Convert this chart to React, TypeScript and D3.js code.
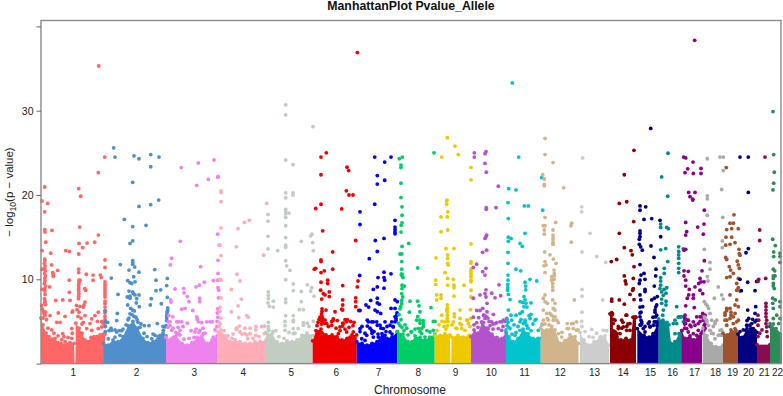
import React, { useEffect, useRef } from 'react';
import * as d3 from 'd3';

type Pair = [number, number];

const chromNames = ['1','2','3','4','5','6','7','8','9','10','11','12','13','14','15','16','17','18','19','20','21','22'];
const chromTicks = [31.7,95,152.7,201.7,249.7,294.7,337,376.7,414,449.7,483,518.7,553,581.7,609,631,653,674,691,707,722.7,736];
const chromColors = ['#FF6666','#4F8FCB','#EE82EE','#FFAEB9','#C1CDC1','#EE0000','#0000FF','#00CD66','#EEC900','#B452CD','#00C5CD','#D2B48C','#CDCDCD','#8B0000','#00008B','#008B8B','#8B008B','#A9A9A9','#A0522D','#000080','#8B0A50','#2E8B57'];
const yTicks = [0, 10, 20, 30, 40];
const yTickLabels = ['', '10', '20', '30', ''];

// band = top of the solid mass of points, [genome position, -log10 p]
const chr1Band: Pair[] = [[0,5.4],[2,4.6],[5,3.6],[8,3.2],[11,2.9],[14,3],[17,2.5],[20,2.4],[23,2.2],[26,2.3],[29,2.5],[33,2.4],[33.6,0],[34.4,0],[34.8,4.8],[38,4.2],[41,3.6],[44,2.8],[47,2.6],[50,3.1],[53,3.2],[56,3.2],[59,3.4],[62,3.5],[64,3.5]];
const chr2Band: Pair[] = [[62.5,2.4],[67,2.2],[72,2.8],[77,2.6],[82,3.2],[87,4.5],[92,5],[97,4.2],[102,3],[107,2.5],[112,2.6],[117,3.2],[122,3.6],[125,3.3]];
const chr3Band: Pair[] = [[125,3.1],[130,2.9],[135,3.3],[141,2.4],[146,2.2],[151,2.5],[156,3.1],[161,3.3],[166,2.4],[171,2.8],[176,3.3]];
const chr4Band: Pair[] = [[176,3.8],[180,4],[184,3.3],[189,2.6],[194,2.8],[199,2.6],[204,2.4],[209,2.4],[214,2.6],[219,2.6],[225,2.8]];
const chr5Band: Pair[] = [[225,3.7],[231,3.5],[236,2.6],[241,2.4],[246,2.7],[251,2.6],[256,2.8],[261,3.35],[266,3.6],[271.7,3.35]];
const chr6Band: Pair[] = [[271.7,2.7],[275,3.9],[280,4.1],[285,3.4],[291,3.4],[296,3.2],[301,2.8],[306,3],[311,3.4],[315.7,3.4]];
const chr7Band: Pair[] = [[315.7,2.6],[321,2.4],[326,2.2],[331,2.4],[336,2.6],[341,3.55],[346,3],[351,3.15],[356.3,3.75]];
const chr8Band: Pair[] = [[356.3,3.8],[362,3.5],[367,2.6],[371,2.6],[374,3.3],[379,3.1],[384,2.8],[389,3.15],[393.7,3.5]];
const chr9Band: Pair[] = [[393.7,3.35],[399,3.35],[404,3.55],[408.9,3.4],[409.3,0],[410.2,0],[410.6,3.15],[417,3.35],[422,3.15],[428,3.35],[430,3.35]];
const chr10Band: Pair[] = [[430,3.2],[433,4],[437,3.6],[441,4.9],[446,4.2],[451,3.5],[456,3.1],[461,3],[465,3.7]];
const chr11Band: Pair[] = [[465,4],[468,3.2],[472,2.6],[477,3],[482,4.1],[487,3.55],[492,3],[497,3],[499.7,3]];
const chr12Band: Pair[] = [[499.7,4.2],[505.7,4],[510.7,4.4],[514,4],[519,2.4],[524,2.75],[529,3.4],[534,3.2],[537.5,2.4]];
const chr13Band: Pair[] = [[539,3.7],[543,2.8],[548,2.2],[553,2.6],[559,3.1],[564,3.3],[568,2.2]];
const chr14Band: Pair[] = [[569,5.9],[571.5,5.9],[572,3.9],[576,3.2],[580,2.8],[585,3],[590,2.8],[592,5.5],[595,5.5]];
const chr15Band: Pair[] = [[596.3,4.15],[603,3.35],[608,3.15],[612,3.55],[616,4.5],[617.7,5]];
const chr16Band: Pair[] = [[617.7,5.3],[622,5.15],[626,4.9],[628,4.6],[630,2.4],[634,2.6],[638,3.55],[641,3.9]];
const chr17Band: Pair[] = [[640.7,3.9],[644,3],[649,3.3],[653,2.8],[657,3.2],[661,3.7]];
const chr18Band: Pair[] = [[661.7,4.2],[666,3.3],[670,2.4],[675,2],[682,2.2]];
const chr19Band: Pair[] = [[682,3.6],[686,3.4],[690,4],[695,3.9],[697,3.5]];
const chr20Band: Pair[] = [[697,3.5],[701,3.1],[705,3.9],[710,4.2],[714,3.9],[716,3.7]];
const chr21Band: Pair[] = [[716,2.25],[729,2.25]];
const chr22Band: Pair[] = [[729,4.75],[735,4.15],[741,3.5]];

const chr1Points: Pair[] = [[57.7,35.3],[63.7,24.5],[57.3,22.65],[3.7,20.95],[37.7,20.75],[39.7,19.85],[1,19.3],[6.7,19],[3.7,18],[38.7,16.2],[3.7,15.9],[4,15.6],[11,15.8],[57.3,15.25],[4.7,14.4],[38,14.25],[46,14.3],[53.7,14.4],[41.7,13.75],[24.7,13.4],[28.3,13.3],[1,13.4],[9.7,13.1],[37.7,13],[64,12.3],[64,11.4],
  [3.7,12.4],[3.9,12.2],[3.5,11.9],[4.1,11.6],[3.7,11.3],[4.3,11],[3.6,10.7],[4.4,10.4],[3.8,10.1],[4,9.8],[3.4,9.5],[4.6,9.2],[3.7,8.9],[3.9,8.6],[4.1,8.2],[3.5,7.7],[4,7.4],[3.6,7.2],[4.6,7],[1,11.2],[1,8.8],
  [10.7,11.7],[11.7,10.8],[12.3,10.6],[12.3,10.35],[16.7,11.05],[8.7,9.1],[28.3,9.9],[37.7,11.2],[37.7,10.8],[38,9.9],[38,9.6],[39,9.9],[45.3,10.6],[52,10.5],[59.3,10.5],[60.3,10.2],[52,9.9],[43.7,8.9],[44.7,8.7],[28.3,8.45],[14.7,7.5],[21.7,7.55],[29,7.5],
  [37.7,9.3],[37.7,9],[37.5,8.8],[37.7,8.6],[37.9,8.3],[37.7,8],[37.5,7.7],[44,7.3],[43,6.95],[42.3,6.7],[64,9.7],[64,9.4],[64,9.1],[64,8.8],[64,8.5],[64,8.2],[64,7.9],[64,7.4],[64,7.1],[64,6.7],[64,6.3],[64,6],[64,5.6],[64,5.2],[64,4.8],[64,4.4]];
const chr1Low: Pair[] = [[0.6,6.9],[1.2,6.5],[2.5,6.2],[3,5.9],[4.5,6.1],[2,5.4],[4,5.7],[5.5,5.2],[9,5.7],[17.3,6],[24,5.6],[31.7,6.25],[31.2,6.1],[10.7,4],[15.7,4.9],[19,4.9],[21.7,3.55],[23,3.2],[20.7,2.85],[24,2.6],[30.7,4.15],[31.3,3.6],[30.7,3],[35.5,6.9],[36,6.4],[38,6.1],[37,5.6],[40,5.4],[39,6.8],[41,4.7],[44,5.7],[50.7,5.3],[54,5.7],[57.3,6.1],[42.3,4.9],[49,4.75],[56.3,5],[60.7,5],[62.3,4.75],[45.7,4.15],[50.7,3.95],[57.3,4.15],[60.7,4.35],[7,4.2],[13,3.6],[17,3.3],[27,3.1]];
const chr2Points: Pair[] = [[72.7,25.6],[74,24.5],[93,24.65],[98,24.3],[109.7,24.8],[118,24.5],[109.7,23.35],[91.7,21.5],[117.7,19.4],[98,18.65],[109.7,18.85],[83.3,17.1],[91.7,16.25],[105,16.4],[91.7,14.55],[89,14.25],
  [91.7,12.2],[91.7,12],[91.7,11.8],[79.3,11.75],[93.7,11.45],[88,11.1],[113.7,11.15],[98,10.85],[92.7,10.3],[70.3,10.15],[126.3,10.1],[115,9.9],[86.7,9.85],[89,9.6],[90.7,9.5],[94,9.7],[125.7,9.25],[88,8.6],[115,8.65],[119.7,8.75],[77,8.2],
  [91.7,8.5],[92.3,8.3],[94,8.15],[98,8.15],[95.7,7.7],[89,8],[86.3,7.9],[89,7.75],[110.3,7.7],[126.3,7.85],[95.3,7.2],[86.7,6.95],[109.3,6.95],[120.3,7.1],[98.3,6.75],[89.7,6.55],[91.7,6.35],[93.3,6.25],[126.7,6.6],[126.7,6.4],[126.3,6.2],[126,6],[64.3,6.2],[76.3,5.95],[75.7,5.1],[66.7,4.9]];
const chr2Low: Pair[] = [[103.3,4.5],[108,4.5],[64.3,5],[64.3,4.4],[64.3,3.8],[125.7,5.1],[125,4.5],[122,4.4],[88,5.4],[96,5.2],[97,4.9],[100,4.7],[85,4.6],[82,4.1],[74,4],[70,4.2],[68,3.9],[78,3.9],[70.7,3.95],[75.7,3.75],[80.7,3.9],[79,3.35],[74,3.15],[67.3,2.95],[116.3,4.75],[124,4.35],[122.3,3.95],[119,3.35],[114,3.35],[110.7,2.95],[125.7,5.7],[125.7,5.4],[89,5.9],[91,5.8],[93,5.6],[95,5.5],[87,5.2],[99,4.3],[103,3.6],[106,3.2],[112,3.5]];
const chr3Points: Pair[] = [[140.3,23.25],[157.3,23.8],[173,24.15],[167.3,21.85],[176.8,22.1],[177,22.2],[155.7,21.15],[139.3,14.5],[130.7,12.5],[129.3,11.7],[159.7,11.5],[134,8.85],[142.7,8.9],[143,8.4],[155,9.1],[158.3,9.3],[163.3,9.65],[172.3,9.85],[146.3,7.95],[148,7.35],[158.7,7.75],[158.7,7.35],[129.7,7.55],[130,7.3],[140.7,6.45],[144,6.55],[151.7,6.3],[131.7,5.55],[155.7,5.55],[156.3,5.25],
  [176.7,15.35],[178.3,14.05],[177,12.25],[177,10.7],[176.7,9.9],[177,9],[177.7,8.7],[177.5,7.8],[176.5,6.5],[176.3,6],[176.8,5.5],[176.2,5],[175.8,4.4]];
const chr3Low: Pair[] = [[127.3,4.95],[135.7,4.95],[138,4.95],[140.7,4.95],[165.7,4.95],[169,4.95],[171.3,4.95],[146.3,4.8],[157.3,4.95],[160.7,4.85],[128,5.7],[129,4.5],[132,4.2],[137,4.3],[142,4.4],[135,3.7],[139,3.4],[150,3.9],[155,4.1],[158,3.7],[162,4.2],[164,3.6],[130.7,3.95],[132.3,3.15],[139,3.95],[137.3,3.55],[129,4.95],[154,3.75],[159,3.95],[162.3,3.55],[172.3,3.15],[127,4.3],[153,3.1],[148,3],[143,2.9],[174,4]];
const chr4Points: Pair[] = [[180,20.3],[180,20.5],[180,19.2],[180,16.1],[208.3,17],[203.3,16.75],[197,16],[195.3,13.85],[196,10.6],[199,9.8],[190.3,8.8],[200.3,7.65],[197,6.85],[190.3,6.15],[197.7,5.45],[205.7,5.7],[207.3,5.5],[179,14.05],[180,12.8],[179,10],[180,7.8],[179,6.7],[179,6.2],[180,9.9],[180,5.4],[225.7,19],[222.7,12.85],[223.7,4.45]];
const chr4Low: Pair[] = [[195.3,4.2],[198.3,4.45],[204,4.2],[209,4.2],[215,4.4],[214.7,4],[220.7,4.4],[183,3.9],[187,3.3],[192,3.5],[201,3.5],[206,3.4],[204,3.55],[209,3.55],[214.7,3.35],[206.7,2.95],[185.7,3.15],[223.3,3.55],[178,4.9],[178,4.4],[179,4.7],[195.7,4.05],[199,3.75],[191,3],[218,3.2],[212,3]];
const chr5Points: Pair[] = [[244.7,30.7],[244.7,29.5],[272,28.1],[244.7,24.15],[252,23.6],[244.7,20.25],[252,20.25],[252,20],[244.7,19.65],[227,17.7],[227,16.9],[227,15.1],[227,13.6],[244.7,18.3],[244.7,18],[248,17.85],[244.7,17.75],[244.7,17.35],[244.7,16.35],[244.7,14.95],[244.7,14.05],[244.7,13.8],[236.7,13.4],[260.3,14.5],[269.7,15.15],[271,15.35],[271.7,14.35],[272.3,13.4],[244.7,12.2],[245.7,11.6],[249,11.05],[244.7,9.95],[252.3,9.45],[252.3,8.65],[260.3,8.55],[266.3,9.35],[270.7,9],[269.7,8.6],[273,8],
  [227.3,8.5],[227.3,8.1],[227.3,7.7],[227,7.2],[232.3,7.4],[232.3,6.7],[228.3,6.8],[244.7,7.65],[244.7,7.25],[260.3,7.35],[258.3,6.4],[262.3,6.4]];
const chr5Low: Pair[] = [[244.7,5.7],[252.3,5.7],[252.3,5.15],[227.3,4.9],[227.3,4.4],[227.3,4.1],[244,5],[244,4.5],[257.3,4.15],[262.3,4.85],[266.3,4.8],[272.3,5],[235,3.9],[248,3.7],[254,3.6],[268,4.4],[244,3.95],[252.3,4.95],[252.3,4.15],[252.3,3.55],[262.3,4.55],[228,3.9],[232,3.8],[238,3.2],[243,3]];
const chr6Points: Pair[] = [[316.3,36.9],[285.3,25],[280,24.5],[280,22.4],[306,23.3],[307.7,22.9],[305.3,20.5],[308,20],[312,20],[280,18.9],[274.7,18.4],[300.7,18.35],[281.7,15.75],[314.7,14.6],[291.7,13.25],[280,12.3],[280,12.1],[274.7,11.3],[273.3,11.2],[291.7,11.2],[283.3,11],[280,10.8],[280,9.65],[286.7,9.9],[286.7,9.5],[301.7,9.25],[317,9.8],[316.3,9.1],
  [279.7,8.7],[288.3,8.5],[288.3,7.95],[282.3,8.3],[280.7,7.65],[284,8.15],[314.7,7.8],[314.7,7.35],[301.7,7.55],[301.7,6.95],[301.7,6.35],[294,6.15],[300.7,6.45],[314.7,6.75],[317.7,6.3]];
const chr6Low: Pair[] = [[281,6.5],[281,6.2],[280.5,5.9],[281,5.6],[280.5,5.3],[281,5],[280.5,4.7],[285,6.35],[292.3,5.3],[296.3,5.1],[306.3,5.2],[309.7,5],[301.7,4.8],[301.7,4.45],[287.3,4.4],[290.7,5],[295,4.2],[299,3.9],[304,4.1],[308,4.3],[312,4.5],[278,5.2],[276,4.5],[285.7,4.75],[290.7,4.55],[292.3,5.15],[297.3,3.55],[302.3,4.75],[305.7,4.95],[299,4.35],[312.3,3.75],[309,3.15],[305.7,3.75],[294,3.15],[279,5.5],[282,5.3],[283,4.8],[284,5.15],[277,4.9],[304,5.2],[313,4.9]];
const chr7Points: Pair[] = [[333.7,24.5],[350,24.5],[343.7,23.9],[336.3,22.3],[343.7,21.75],[336.3,21.3],[333.7,18.9],[319,18],[319,16.5],[354,17],[354,16.2],[354,15.9],[354,15.6],[354,15.4],[343,14.85],[334.3,14.6],[336.3,13.3],[328.3,12.45],[318.7,10.45],[343,10.85],[350,10.65],[337,10.2],[343,10.2],[343.7,9.9],[336.3,9.1],[332.3,8.8],[343,8.95],
  [329.7,7.5],[336.3,7.75],[325,6.95],[327.7,6.7],[336.3,7.2],[338.3,7.05],[354,7.55],[356.3,7.35],[334,6.35],[336.3,6.15],[339.7,5.95],[350,6.55],[354,6.55],[319,6.3]];
const chr7Low: Pair[] = [[326.3,5.15],[330.7,4.95],[335.7,4.95],[336.3,4.55],[326.3,4.45],[329,4.2],[344,4.95],[350.7,4.95],[355.7,5.75],[355,5.35],[354,4.95],[319,3.8],[324,3.6],[333,3.8],[340,4.2],[346,4.4],[352,4.4],[321,4.4],[331,3.6],[337,3.5],[319,4.15],[320.7,2.95],[325.7,3.35],[330.7,3.95],[332.3,3.15],[339,4.55],[342.3,4.15],[344,3.35],[349,3.75],[349,4.55],[352.3,4.35],[354,5.55],[327.3,4.95],[332.3,4.95],[324,2.75],[337.3,3.15],[356,6],[355,5.1],[351,3.5],[345,3.8]];
const chr8Points: Pair[] = [[358.3,24.3],[361.3,24.5],[360,23.55],[360,23.25],[360,21.4],[360,19.7],[393,25],[361,18.6],[361,17.6],[361,16.7],[360.3,16.4],[360,15.6],[367.7,14.25],[361,13.9],[359,13],[360.7,13],[360.7,12.1],[360.7,11.2],[361,10.6],[360.3,10.6],[361,10.4],[362,10.2],[361,9.3],[363.3,9.2],[361,8.9],[360.7,8.3],[361.7,7.9],[360.7,7.5],[360.7,7.1],[359.7,6.75],[359,6.5],[376.7,11.35],
  [369,7.4],[376.7,7.4],[378,6.85],[379,6.15],[368.3,6.1],[390,6.65]];
const chr8Low: Pair[] = [[376.7,5.57],[379,4.8],[382.3,5.1],[364,4.6],[365.7,4.2],[392.3,5],[394,5],[382.3,4.4],[379,3.8],[370.7,3.8],[358,5.8],[360,5.2],[386,3.9],[374,4.1],[377.3,4.15],[380.7,4.15],[380.7,3.55],[384,3.15],[370,3.75],[382.3,4.75],[375.7,5.15],[379,5.15],[389,3.75],[392.3,3.95],[357.5,4.8],[359,4.5],[361,4.3],[363,3.9],[367,3.4]];
const chr9Points: Pair[] = [[406.3,26.8],[414,25.8],[417.3,24.8],[400.7,24.5],[430,23.25],[430,21.8],[406,19.4],[405.7,19.3],[405.7,18.9],[406.7,18],[406.3,17.4],[400,17.4],[400,15.65],[406.7,15.85],[405,13.65],[413,13.65],[406.7,12.9],[406.7,12.5],[406.7,11.9],[407.3,11.7],[395,12.55],[394.7,9.9],[394.7,9.4],[404,10.8],[406.7,10.1],[412.3,10],[413,9.3],[413,9],[423,9.3],[395.7,8.15],[400,8.15],[400,7.75],[395.7,7.55],[406.7,9.3],[413,8],[419,6.35],
  [406.3,6.95],[406.3,6.55],[406.3,6.15],[406.3,5.75],[406.3,5.35],[430,14.2],[430,12.1],[430,11.9],[430,11.2],[430,10.9],[430,10.6],[430,10.3],[430,9.9],[430,9.7],[430,8.7],[430,7.9]];
const chr9Low: Pair[] = [[413.3,5.9],[413.3,5.55],[419,5.35],[420.3,4.6],[426.3,5.15],[427.3,4.75],[429.7,5.35],[401,5],[398,4.6],[403,4.4],[411,4.6],[415,4.2],[400.7,5.75],[404,4.95],[405.7,6.3],[412.3,4.95],[419,4.75],[420.7,4.15],[425.7,5.15],[424,3.95],[415.7,4.15],[407,5],[406.5,4.5],[405,4.1],[396,3.9],[429,4.4],[429.5,6.4]];
const chr10Points: Pair[] = [[433.3,25],[433.3,24.5],[445,25.15],[444,24.9],[444,23.75],[445.3,22.7],[457.3,21.05],[445.3,18.5],[445.3,18.3],[455,18.5],[445.7,15.25],[445,15.05],[444,14.85],[445.7,13.45],[441.7,13.2],[435.7,11.8],[432.3,11.4],[445,11.3],[441.7,10.9],[444,10.5],[458,9.35],[445,8.75],[444,8.3],[450.7,8.35],[439,8.15],[432.3,7.75],[459.7,8.05],[454,7.8],[445,7.9],[446,7.15],[446,6.15],[442.7,5.75],[437.7,5.45],[441.7,6.55],[452.3,5.85]];
const chr10Low: Pair[] = [[435.7,4.85],[442.7,4.85],[455.7,4.85],[460.7,4.95],[452,4.7],[448,5],[464,5],[432.3,5.5],[435.7,6.3],[439,6.3],[443,5.75],[444,5.35],[440.7,4.95],[450.7,4.95],[454,4.75],[459,4.95],[462.3,5.15],[465.7,5.35],[447.3,4.15],[457.3,4.15],[460.7,3.95],[433,4.6],[437,4.3],[445,5.6],[447,5.4],[449,4.5],[452,4.1],[462,4.4]];
const chr11Points: Pair[] = [[471.3,33.3],[477.7,24.5],[467.7,20.75],[475,20.6],[500.7,22.05],[467,19.1],[467.3,17.2],[484,15.45],[467.3,15],[470,14.85],[467.3,14.5],[479,14.25],[481.3,13.9],[467,13.2],[483.3,18.7],[487.3,18.7],[467,11.9],[475,11.2],[479.7,11],[467,10.5],[467,9.9],[466.7,9.4],[466.7,9],[466.7,8.7],[467.3,8.2],[469,7.6],[489,10],[484,9.65],[495.7,9.8],[484.7,9.2],[484.7,8.75],[483,7.95],[484,7.55],[479,7.35],[481.7,7.25],[485,7.15],[490,7.2],[483,6.75],[481.3,6.15],[479,5.95],[467.3,6.35],[470,5.75],[475,5.75],[490,5.85],[495,5.25],[486,6.7],[488,5.7],[501.7,18.2],[501,4.6]];
const chr11Low: Pair[] = [[480,5.2],[484,4.9],[473,4.6],[477,4.4],[492,4.7],[469,4.15],[470.7,5.15],[474,3.35],[479,3.95],[482.3,4.75],[484,5.15],[485.7,4.55],[489,5.35],[494,5.15],[497.3,3.95],[479,4.95],[466,5.2],[467,4.9],[466,4.5],[468,4.3],[487,4.2],[490,3.9],[471,3.5],[475,3.7]];
const chr12Points: Pair[] = [[504,26.7],[504,24.8],[512,23.85],[501.7,22.4],[503.3,21.9],[503.3,21.25],[503.3,21.1],[522.7,20.85],[504,17.35],[514.7,16.75],[530.7,16.65],[530,16.35],[502.3,16.35],[504,16.35],[503.3,15.85],[503.3,15.35],[512,15.85],[512,15.25],[512,14.95],[512,14.65],[512,14.35],[512,14.15],[530.3,14.4],[503.7,13.25],[509,12.9],[512.3,12.4],[515,11.9],[504,12.1],[503,11.6],[505,11.7],[513,11.1],[513.3,10.7],[513.3,10.4],[510.7,10.3],[513,10],[510.7,9.9],[511.7,9.5],[511.7,9.1],[511.7,8.7],[504,10.8],[533.3,7.55],
  [504,8.15],[502.3,7.75],[504,7.35],[506.3,7.15],[511.7,7.55],[514,7.15],[512.3,6.55],[514,6.35],[502.3,6.35],[505.7,5.95]];
const chr12Low: Pair[] = [[510.7,5.75],[514,5.55],[506.3,5.35],[512.3,5.15],[517.3,4.85],[526.3,4.75],[530.7,4.75],[535.7,4.95],[526.3,4.15],[532.3,4.15],[521,3.7],[537,4],[502.3,5.15],[507.3,5.15],[512.3,5.55],[515.7,5.15],[517.3,3.55],[520.7,3.15],[532.3,4.75],[527.3,4.15],[535.7,3.95],[509,5.95],[501,4.7],[504,4.7],[508,4.6]];
const chr13Points: Pair[] = [[541.7,24.4],[540.7,18.6],[540.7,18],[549,15.45],[541,13.25],[555.7,12.7],[564.7,12],[541,8.8],[541,8],[561.7,7.55],[541,6.1],[540.7,5],[550.7,4.05],[544,3.8],[555.7,3.6],[562.3,3.95],[565.7,3.9],[548,3.2],[560,3.2],[541,4.4],[552,3.1]];
const chr14Points: Pair[] = [[593,25.3],[583.3,22.4],[578.3,19],[585.7,19.2],[592.7,16.85],[578.3,15.45],[583.3,13.75],[590,13.4],[591.3,12.9],[575.7,12.35],[570.3,12.1],[593,11.5],[583.3,10.4],[592.3,10.1],[584.3,9.8],[585,9.45],[592.3,8.9],[591.7,8.7],[589,8.2],[570.7,7.65],[570.7,7.4],[578.3,7.55],[593,7.6],[583.3,7.05],[570.7,6.05],[570.7,5.75],[585,5.75],[580.7,5.15],[594,5.55],[572.3,5.25],[577.3,4.4],[580.7,4.2],[585.7,4.4],[574,3.8],[587,4.7],[582,4.9],[574,5.15],[585.7,5.75],[577.3,4.15],[582.3,4.35],[585.7,3.95],[579,3.55],[575.7,3.55],[589,3.95],[589,4.75],[572.3,4.75]];
const chr15Points: Pair[] = [[609.7,27.9],[599,18.7],[604.7,18.6],[599,18.2],[603,17.1],[610.7,17.2],[619,17],[599,15.75],[599,15.45],[599,15.05],[598.3,14.75],[598.3,14.15],[599.7,13.85],[601.3,13.45],[610,13.95],[619.7,15.05],[613,12.6],[599,11.75],[615,11.2],[614.7,10.4],[603,10.7],[600,10.5],[599,9.9],[604,10],[598.3,9.5],[613.3,9.2],[604,8.8],[604,8.55],[613.3,7.75],[610.7,7.55],[599,8.15],[599.7,7.55],[601.7,6.75],[616.3,7.95],[615.7,6.95],[614,6.35],[615.7,5.75],[599,6],[600,5.15],[600.7,4.75],[608.3,4.95],[614,4.95],[609,4.4],[616.3,4.75],[604,4.4],[599,4.6],[612,5.5],
  [599,6.7],[600,6.1],[599,5.55],[600.7,4.95],[599.7,4.55],[602.3,4.15],[614.7,6.7],[614,6.1],[614.7,5.55],[613.3,4.95],[612.3,4.55],[615.7,4.95],[607.3,4.75],[609,4.35],[604,3.75]];
const chr16Points: Pair[] = [[627,24.95],[620.7,22.15],[626.7,19.85],[619.7,16.55],[619.7,16.15],[625.7,16.15],[627.3,16],[637.7,13.85],[637.7,13.3],[642.3,13.6],[624.7,13.65],[619.7,13.5],[626.7,12.1],[623.3,11.3],[623.3,10.7],[637.7,12.9],[637.7,12.5],[637.7,11.9],[637.7,11.3],[637.7,10.8],[619.7,10.2],[619.7,9.8],[619.7,9.3],[619,8.9],[625.7,9],[623,8.8],[620.7,8.5],[625,8.35],[622.3,8.1],[620.7,7.65],[625,7.4],[620.7,7.15],[625,6.95],[622.3,6.35],[621.7,5.75],[635.7,6.75],[642.3,5.55],[639.7,5.55],[635.7,4.75],[632.3,4.75],[638,5.55],[642.3,4.95],[634,3.55],[640,5.55],[637.3,5.5],[634,5.15]];
const chr17Points: Pair[] = [[653.7,38.35],[642.7,24.5],[644.7,24.4],[652,23.9],[646.7,23.1],[660,23.15],[644,22.65],[652.3,22.55],[660,22.55],[647.7,20.3],[654,20.3],[649,19.8],[651.7,19.5],[651.7,19.4],[663.3,18.2],[644.7,16.75],[656.7,16.2],[663,16.55],[645.7,15.65],[644.7,15.25],[662.3,15.35],[644.7,13.55],[643,13.45],[663.3,12.2],[643,11],[647.3,10.95],[661,11],[643,10.4],[644.7,9.9],[659,10.1],[660,9.7],[663,9.7],[657.7,9.5],[654,9.1],[644.7,9.2],[648.3,8.8],[659,8.7],[661.7,8.3],[647.7,8.15],[652.3,8.15],[646.3,7.75],[652.3,7.75],[653.3,6.65],[644.7,6.85]];
const chr17Low: Pair[] = [[644,5.75],[644,5.2],[643.7,4.7],[643.7,4.2],[659,5.55],[661.7,5.95],[647.3,5.15],[652.3,4.95],[655.7,5.55],[664,5.75],[664,5.2],[664,4.7],[664,4.2],[662.7,3.9],[650,4.4],[644,5.35],[644.7,4.75],[645.7,4.15],[646.7,5.15],[649,4.55],[647.3,3.75],[652.3,3.55],[654,4.55],[657.3,3.95],[659,5],[660.7,5.55],[662.3,5.15],[663.3,4.55],[662.3,3.95],[660,3.55],[657.3,4.75],[655.7,3.35]];
const chr18Points: Pair[] = [[666.3,24.3],[679,24.5],[682.3,24.5],[682.3,22.9],[680.7,20.65],[666.3,19.9],[666.3,19.55],[666.3,17.6],[681.7,17.35],[681.3,14.55],[681.3,13.75],[663.3,13.55],[669,12],[669,11.2],[666.3,10.3],[667,9.8],[677.3,9.1],[680.7,8.15],[682.3,7.65],[673.3,7.75],[663.3,7.35],[665,7.05],[666.3,6.85],[667.7,6.55],[669,5.95],[664,5.35],[665.7,4.95],[674,4.95],[675.7,5.15],[672.3,4.4],[680.7,4],[670.7,3.6],[679,3.4],[663.3,5.55],[665.7,5.15],[667.3,4.55],[669,3.95],[670.7,5.15],[674,4.75],[672.3,3.55],[679,3.95],[677.3,3.35],[680.7,3.35],[674,2.95]];
const chr19Points: Pair[] = [[685.3,23.25],[693,17.65],[689,16.65],[692.3,16.65],[685.7,15.9],[690.7,16],[697.3,16],[690.7,15],[685,15],[694,14.35],[689,14.15],[684.7,14.05],[698,13.55],[698.3,13.05],[699,12.85],[684.7,12.6],[685.7,12.35],[696.3,12.15],[697.3,11.7],[698.3,11.3],[688.3,11.5],[689.7,11.1],[692.3,10.7],[685.7,10.2],[689,10.3],[697.3,10.1],[695.7,9.5],[697.3,9],[695.7,8.7],[699,8.6],[689,8.15],[695.7,7.55],[694,6.95],[697.3,6.75],[685.7,6.55],[689,6.55],[684,6],[690,5.75],[697.3,5.15],[684,5.15],[692.3,4.75],[685.7,6.3],[690,6.1],[684,5.75],[692.3,5.55],[685.7,5.15],[694,5.95],[695.7,4.95],[689,5.35],[694,4.15],[685.7,4.55]];
const chr20Points: Pair[] = [[699,24.5],[707.3,24.5],[707.3,20.3],[707.3,13.65],[705,13.15],[699,10],[706.7,9.65],[715.7,9.75],[700.3,8.65],[714,8.65],[714.7,6.75],[706.7,6.35],[714,5.95],[707.7,5.35],[711.7,5.25],[706,5.1],[714,4.95],[708.7,4.55],[712.3,4.15],[706,4.15],[699,3.8],[702.3,4],[705.7,4.55],[710.7,4.75],[715.7,5.15]];
const chr21Points: Pair[] = [[724,24.5],[718.7,15.85],[718.7,14.6],[717.7,10],[717,9.75],[724.7,10.1],[725,7.15],[725,6.75],[725,6.35],[725,5.95],[725,5.55],[725.7,5.15],[725,4.75],[725.7,4.35],[725.7,3.8],[726.3,3.2],[717,5.75],[717.7,5.15],[717,4.55],[718.7,3.6],[717,3.2],[721,4],[729,4.4]];
const chr22Points: Pair[] = [[732,29.9],[732.7,24.8],[733.3,22.7],[732.7,21.4],[732,20.6],[731.7,14.75],[734.3,14],[732.7,13.25],[732.7,12.7],[739,13.1],[739.7,12.7],[739.7,12],[732.3,11.2],[733.7,11],[732.3,10.4],[734,10.4],[732.3,10.1],[732.3,9.5],[732.3,9.2],[733.3,8.9],[731.7,7.75],[734.3,7.55],[739,7.35],[731.7,7.15],[739,6.75],[732.3,6.55],[735.7,5.75],[739,5.35],[732.3,5.35],[737.7,4.75],[732.3,4.7]];

const chrBands = [chr1Band,chr2Band,chr3Band,chr4Band,chr5Band,chr6Band,chr7Band,chr8Band,chr9Band,chr10Band,chr11Band,chr12Band,chr13Band,chr14Band,chr15Band,chr16Band,chr17Band,chr18Band,chr19Band,chr20Band,chr21Band,chr22Band];
const chrPoints = [
  [...chr1Points,...chr1Low],[...chr2Points,...chr2Low],[...chr3Points,...chr3Low],[...chr4Points,...chr4Low],[...chr5Points,...chr5Low],
  [...chr6Points,...chr6Low],[...chr7Points,...chr7Low],[...chr8Points,...chr8Low],[...chr9Points,...chr9Low],[...chr10Points,...chr10Low],
  [...chr11Points,...chr11Low],[...chr12Points,...chr12Low],chr13Points,chr14Points,chr15Points,chr16Points,
  [...chr17Points,...chr17Low],chr18Points,chr19Points,chr20Points,chr21Points,chr22Points,
];

const width = 783;
const height = 396;
const margin = { top: 20.5, right: 2, bottom: 32, left: 41 };
const axisGrey = '#8a8a8a';
const fontFamily = '"Liberation Sans", Arial, sans-serif';

export default function App() {
  const svgRef = useRef<SVGSVGElement>(null);

  useEffect(() => {
    const svg = d3.select(svgRef.current);
    svg.selectAll('*').remove();

    const x = d3.scaleLinear().domain([0, 740]).range([margin.left, width - margin.right]);
    const y = d3.scaleLinear().domain([0, 40]).range([363.6, 26.4]);

    const area = d3
      .area<Pair>()
      .x(d => x(d[0]))
      .y0(y(0))
      .y1(d => y(d[1]));

    chrPoints.forEach((points, i) => {
      const g = svg.append('g').attr('fill', chromColors[i]);
      g.append('path').datum(chrBands[i]).attr('d', area);
      g.selectAll('circle')
        // the band vertices get a dot too, so its top edge is not a hard line
        .data([...chrBands[i].filter(d => d[1] > 0), ...points])
        .enter()
        .append('circle')
        .attr('cx', d => Math.min(x(d[0]), width - margin.right - 1))
        .attr('cy', d => y(d[1]))
        .attr('r', 1.9);
    });

    // box around the plot
    svg
      .append('rect')
      .attr('x', margin.left)
      .attr('y', margin.top)
      .attr('width', width - margin.left - margin.right)
      .attr('height', y(0) - margin.top)
      .attr('fill', 'none')
      .attr('stroke', axisGrey)
      .attr('stroke-width', 1.4);

    const yAxis = svg
      .append('g')
      .attr('transform', `translate(${margin.left},0)`)
      .call(
        d3
          .axisLeft(y)
          .tickValues(yTicks)
          .tickSize(4.5)
          .tickFormat((_, i) => yTickLabels[i])
      );
    yAxis.select('.domain').remove();
    yAxis.selectAll('line').attr('stroke', '#666').attr('stroke-width', 1);
    yAxis
      .selectAll('text')
      .attr('font-family', fontFamily)
      .attr('font-size', 10.5)
      .attr('fill', '#222');

    const xAxis = svg
      .append('g')
      .attr('transform', `translate(0,${y(0)})`)
      .call(
        d3
          .axisBottom(x)
          .tickValues(chromTicks)
          .tickSize(0)
          .tickPadding(5)
          .tickFormat((_, i) => chromNames[i])
      );
    xAxis.select('.domain').remove();
    xAxis
      .selectAll('text')
      .attr('font-family', fontFamily)
      .attr('font-size', 10)
      .attr('fill', '#222');

    svg
      .append('text')
      .attr('x', 411)
      .attr('y', 10)
      .attr('text-anchor', 'middle')
      .attr('font-family', fontFamily)
      .attr('font-weight', 'bold')
      .attr('font-size', 12.3)
      .attr('fill', '#111')
      .text('ManhattanPlot Pvalue_Allele');

    svg
      .append('text')
      .attr('x', 410)
      .attr('y', 394)
      .attr('text-anchor', 'middle')
      .attr('font-family', fontFamily)
      .attr('font-size', 12)
      .attr('fill', '#222')
      .text('Chromosome');

    // -log10(p - value), with the 10 set as a subscript
    const yLabel = svg
      .append('text')
      .attr('transform', 'translate(13,192) rotate(-90)')
      .attr('text-anchor', 'middle')
      .attr('font-family', fontFamily)
      .attr('font-size', 11.5)
      .attr('fill', '#222');
    yLabel.append('tspan').text('\u2212 log');
    yLabel.append('tspan').attr('font-size', 8.5).attr('dy', 2.5).text('10');
    yLabel.append('tspan').attr('dy', -2.5).text('(p \u2212 value)');
  }, []);

  return (
    <svg
      ref={svgRef}
      width={width}
      height={height}
      style={{ position: 'absolute', left: 0, top: 0, background: '#fff' }}
    />
  );
}
